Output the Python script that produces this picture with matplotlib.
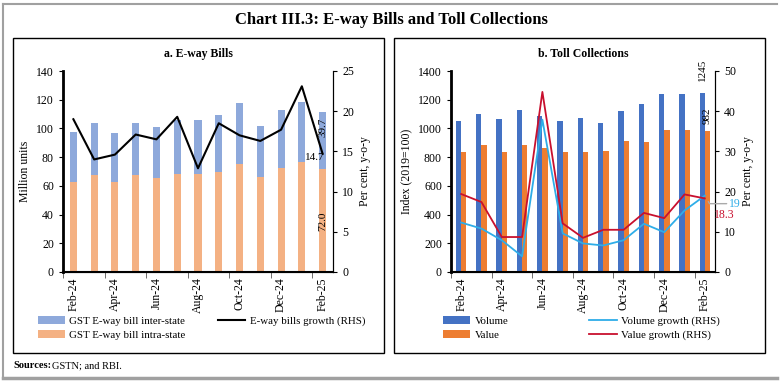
import matplotlib.pyplot as plt
import numpy as np
from matplotlib.patches import Rectangle
from matplotlib.lines import Line2D

plt.rcParams['font.family'] = ['Liberation Serif', 'DejaVu Serif']
plt.rcParams['font.size'] = 8.5

months = ['Feb-24', 'Mar-24', 'Apr-24', 'May-24', 'Jun-24', 'Jul-24', 'Aug-24',
          'Sep-24', 'Oct-24', 'Nov-24', 'Dec-24', 'Jan-25', 'Feb-25']

# a. E-way bills (million units) and growth
eway_intra = [63.0, 67.4, 63.0, 67.7, 65.6, 68.1, 68.1, 69.5, 74.9, 66.5, 72.6, 76.5, 72.0]
eway_total = [97.7, 104.0, 97.0, 103.5, 101.0, 106.0, 105.8, 109.5, 117.4, 102.0, 112.5, 118.6, 111.7]
eway_inter = [t - i for t, i in zip(eway_total, eway_intra)]
eway_growth = [19.0, 14.0, 14.6, 17.1, 16.5, 19.3, 12.9, 18.5, 17.0, 16.3, 17.7, 23.1, 14.7]

# b. Toll collections (index 2019=100) and growth
toll_volume = [1051, 1100, 1067, 1130, 1086, 1051, 1072, 1037, 1123, 1167, 1242, 1237, 1245]
toll_value = [835, 886, 835, 884, 865, 835, 835, 840, 912, 905, 991, 988, 982]
volume_growth = [12.3, 10.8, 7.9, 3.9, 37.9, 9.6, 7.1, 6.6, 7.9, 12.0, 9.9, 15.3, 19.0]
value_growth = [19.4, 17.4, 8.7, 8.7, 44.8, 12.1, 8.5, 10.5, 10.5, 14.7, 13.4, 19.3, 18.3]

W, H = 783, 382
fig = plt.figure(figsize=(W / 100, H / 100), dpi=100)


def fx(px):
    return px / W


def fy(py):
    return 1 - py / H


# outer frame and panels
fig.add_artist(Line2D([fx(3), fx(777)], [fy(4), fy(4)], color='#a0a0a0', lw=1.5))
fig.add_artist(Line2D([fx(3), fx(3)], [fy(4), fy(378)], color='#a0a0a0', lw=1.5))
fig.add_artist(Line2D([fx(3), fx(777)], [fy(378), fy(378)], color='#a0a0a0', lw=2.5))
for x0, x1 in [(13, 384), (394, 765)]:
    fig.add_artist(Rectangle((fx(x0), fy(353)), fx(x1) - fx(x0), fy(38) - fy(353),
                             fill=False, ec='black', lw=1.0))

fig.text(0.5, fy(20), 'Chart III.3: E-way Bills and Toll Collections', ha='center', va='center',
         fontsize=12, fontweight='bold')
fig.text(fx(13), fy(366), 'Sources:', fontweight='bold', fontsize=7.5, va='center')
fig.text(fx(52), fy(366), 'GSTN; and RBI.', fontsize=7.5, va='center')

x = np.arange(len(months))


def style_axes(ax, ax2):
    ax.set_xlim(-0.5, len(months) - 0.5)
    ax.spines['top'].set_visible(False)
    ax2.spines['top'].set_visible(False)
    ax.spines['left'].set_linewidth(2.0)
    ax.spines['bottom'].set_linewidth(1.5)
    ax.set_xticks(x[::2])
    ax.set_xticklabels(months[::2], rotation=90)
    ax.tick_params(axis='x', length=0, pad=4)
    ax.set_xticks(np.arange(-0.5, len(months) - 0.5, 2), minor=True)
    ax.tick_params(axis='x', which='minor', length=4, direction='out', color='#555555')
    ax.tick_params(axis='y', length=3, direction='out')
    ax2.tick_params(axis='y', length=3, direction='out')


# ---- panel a ----
ax = fig.add_axes([fx(63), fy(272), fx(333) - fx(63), fy(71) - fy(272)])
ax2 = ax.twinx()
ax.bar(x, eway_intra, width=0.34, color='#F4B183', label='GST E-way bill intra-state', zorder=2)
ax.bar(x, eway_inter, bottom=eway_intra, width=0.34, color='#8EA9DB',
       label='GST E-way bill inter-state', zorder=2)
ax2.plot(x, eway_growth, color='black', lw=1.5, label='E-way bills growth (RHS)')
ax.set_ylim(0, 140)
ax.set_yticks(range(0, 141, 20))
ax2.set_ylim(0, 25)
ax2.set_yticks(range(0, 26, 5))
ax.set_ylabel('Million units')
ax2.set_ylabel('Per cent, y-o-y')
style_axes(ax, ax2)
ax.set_title('a. E-way Bills', fontweight='bold', fontsize=8.5, pad=10)
ax.text(x[-1], eway_total[-1] - 4, f'{eway_inter[-1]:.1f}', rotation=90,
        ha='center', va='top', fontsize=8)
ax.text(x[-1], eway_intra[-1] - 30, f'{eway_intra[-1]:.1f}', rotation=90,
        ha='center', va='top', fontsize=8)
ax2.text(x[-1] + 0.1, 14.2, f'{eway_growth[-1]:.1f}', ha='right', va='center', fontsize=8)

h1, l1 = ax.get_legend_handles_labels()
h2, l2 = ax2.get_legend_handles_labels()
fig.legend([h1[1], h1[0], h2[0], Line2D([], [], alpha=0)], [l1[1], l1[0], l2[0], ''],
           ncol=2, loc='upper left', bbox_to_anchor=(fx(38), fy(316)), frameon=False,
           borderpad=0, borderaxespad=0, handletextpad=0.4,
           handlelength=2.5, columnspacing=3.0, labelspacing=0.4, fontsize=7.8)

# ---- panel b ----
bx = fig.add_axes([fx(451), fy(272), fx(715) - fx(451), fy(71) - fy(272)])
bx2 = bx.twinx()
bx.bar(x - 0.13, toll_volume, width=0.26, color='#4472C4', label='Volume', zorder=2)
bx.bar(x + 0.13, toll_value, width=0.26, color='#ED7D31', label='Value', zorder=2)
bx2.plot(x, volume_growth, color='#2EADE8', lw=1.3, label='Volume growth (RHS)')
bx2.plot(x, value_growth, color='#C8102E', lw=1.3, label='Value growth (RHS)')
bx.set_ylim(0, 1400)
bx.set_yticks(range(0, 1401, 200))
bx2.set_ylim(0, 50)
bx2.set_yticks(range(0, 51, 10))
bx.set_ylabel('Index (2019=100)')
bx2.set_ylabel('Per cent, y-o-y')
style_axes(bx, bx2)
bx.set_title('b. Toll Collections', fontweight='bold', fontsize=8.5, pad=10)
bx.text(x[-1] - 0.13, toll_volume[-1] + 85, str(toll_volume[-1]), rotation=90, ha='center',
        va='bottom', fontsize=8, clip_on=False)
bx.text(x[-1] + 0.13, toll_value[-1] + 50, str(toll_value[-1]), rotation=90, ha='center',
        va='bottom', fontsize=8)
bx2.annotate(f'{volume_growth[-1]:.0f}', xy=(x[-1], volume_growth[-1]),
             xytext=(x[-1] + 1.5, 17.0), color='#2EADE8', fontsize=8.5,
             ha='center', va='center', annotation_clip=False,
             arrowprops=dict(arrowstyle='-', color='#aaaaaa', lw=1, shrinkA=0, shrinkB=5,
                             connectionstyle='angle,angleA=0,angleB=-60,rad=0'))
bx2.text(x[-1] + 0.95, 14.2, f'{value_growth[-1]:.1f}', color='#C8102E',
         fontsize=8.5, ha='center', va='center')

h1, l1 = bx.get_legend_handles_labels()
h2, l2 = bx2.get_legend_handles_labels()
fig.legend([h1[0], h1[1], h2[0], h2[1]], [l1[0], l1[1], l2[0], l2[1]],
           ncol=2, loc='upper left', bbox_to_anchor=(fx(443), fy(316)), frameon=False,
           borderpad=0, borderaxespad=0, handletextpad=0.4,
           handlelength=2.5, columnspacing=7.5, labelspacing=0.4, fontsize=7.8)

fig.savefig('out.png', dpi=100)
